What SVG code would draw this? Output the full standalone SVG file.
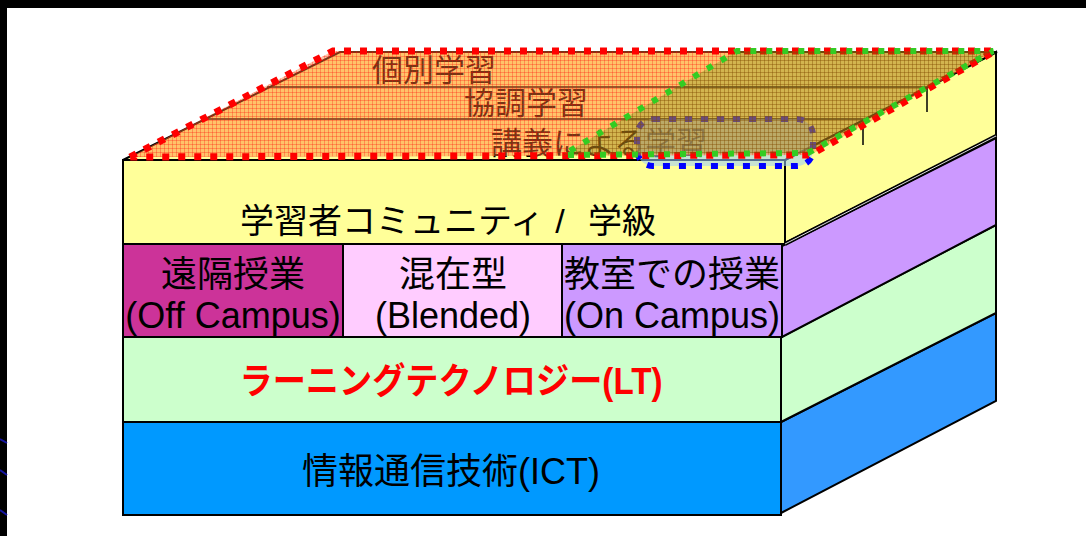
<svg xmlns="http://www.w3.org/2000/svg" width="1086" height="536" viewBox="0 0 1086 536">
<defs>
<pattern id="hatchR" width="4" height="4" patternUnits="userSpaceOnUse">
<rect width="4" height="4" fill="#FF7A30" fill-opacity="0.45"/>
<path d="M0 0.5H4M0.5 0V4" stroke="#FF0000" stroke-opacity="0.28" stroke-width="1"/>
</pattern>
<pattern id="hatchG" width="4" height="4" patternUnits="userSpaceOnUse">
<rect width="4" height="4" fill="#4A8A00" fill-opacity="0.25"/>
<path d="M0 0.5H4M0.5 0V4" stroke="#227700" stroke-opacity="0.18" stroke-width="1"/>
</pattern>
</defs>
<style>
.edge{stroke:#000;stroke-width:2;stroke-linejoin:miter}
.t{font-family:"Liberation Sans","Noto Sans CJK JP",sans-serif;fill:#000;text-anchor:middle}
.big{font-size:36px}
.top{font-size:31px}
.thin{fill:none;stroke:#000;stroke-width:1.5}
</style>
<rect x="0" y="0" width="1086" height="536" fill="#FFFFFF"/>
<g id="frame">
<rect x="0" y="0" width="1086" height="8" fill="#000"/>
<rect x="0" y="0" width="7" height="536" fill="#000"/>
<path d="M0 439L7 443M0 470L7 475M0 510L7 515" stroke="#1515A0" stroke-width="2"/>
</g>
<g id="ict">
<rect class="edge" x="123" y="422" width="658" height="93" fill="#0099FF"/>
<polygon class="edge" points="781,422 996,313 996,401 781,513" fill="#3399FF"/>
<text class="t big" x="451" y="484">情報通信技術(ICT)</text>
</g>
<g id="lt">
<rect class="edge" x="123" y="337" width="658" height="85" fill="#CCFFCC"/>
<polygon class="edge" points="781,337 996,225 996,313 781,422" fill="#CCFFCC"/>
<text class="t big" x="451" y="394" font-weight="bold" style="fill:#FF0000" textLength="423" lengthAdjust="spacingAndGlyphs">ラーニングテクノロジー(LT)</text>
</g>
<g id="offcampus">
<rect class="edge" x="123" y="244" width="220" height="93" fill="#CC3399"/>
<text class="t big" x="233" y="287">遠隔授業</text>
<text class="t big" x="233" y="328">(Off Campus)</text>
</g>
<g id="blended">
<rect class="edge" x="343" y="244" width="219" height="93" fill="#FFCCFF"/>
<text class="t big" x="453" y="287">混在型</text>
<text class="t big" x="453" y="328">(Blended)</text>
</g>
<g id="oncampus">
<rect class="edge" x="562" y="244" width="220" height="93" fill="#CC99FF"/>
<polygon class="edge" points="782,246 996,138 996,225 782,337" fill="#CC99FF"/>
<text class="t big" x="672" y="287">教室での授業</text>
<text class="t big" x="672" y="328">(On Campus)</text>
</g>
<g id="community">
<rect class="edge" x="123" y="160" width="662" height="84" fill="#FFFF99"/>
<polygon class="edge" points="785,160 996,52 996,136 785,243" fill="#FFFF99"/>
<path d="M785,244 L996,136" stroke="#000" stroke-width="4"/>
<path d="M785,244 L996,136" stroke="#DDDDDD" stroke-width="1"/>
<text class="t" x="392" y="233" font-size="34">学習者コミュニティ</text>
<text class="t" x="560" y="233" font-size="34">/</text>
<text class="t" x="622" y="233" font-size="34">学級</text>
</g>
<g id="topface">
<polygon class="edge" points="123,160 340,52 997,52 785,160" fill="#FFFF99"/>
<path class="thin" d="M267,87H927V112M204,119H863V145"/>
<text class="t top" x="434" y="81">個別学習</text>
<text class="t top" x="526" y="114">協調学習</text>
<text class="t top" x="599" y="154">講義による学習</text>
</g>
<g id="lecture-area">
<rect x="637" y="119" width="176" height="47" rx="16" fill="#99CCFF" fill-opacity="0.55" stroke="#0000FF" stroke-width="6" stroke-dasharray="7 9"/>
</g>
<g id="individual-area">
<polygon points="130,157 333,51 995,51 810,155" fill="url(#hatchR)" stroke="#FF0000" stroke-width="7" stroke-dasharray="7 9"/>
</g>
<g id="collab-area">
<polygon points="563,155 737,51 993,51 808,153" fill="url(#hatchG)" stroke="#33CC22" stroke-width="6" stroke-dasharray="6 10" stroke-dashoffset="8"/>
</g>
</svg>
